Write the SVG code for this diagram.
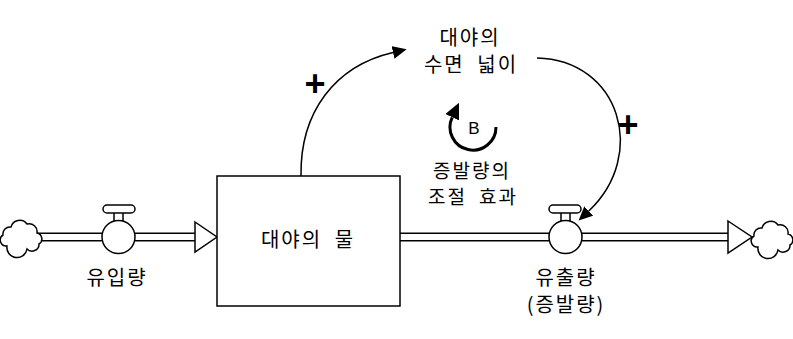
<svg xmlns="http://www.w3.org/2000/svg" width="793" height="339" viewBox="0 0 793 339">
<style>
.t{font-family:"Noto Sans CJK KR","Noto Sans",sans-serif;font-size:20px;fill:#000;text-anchor:middle;letter-spacing:2px;word-spacing:6px}
.s{font-size:19px;letter-spacing:2px}
.pl{font-family:"Liberation Sans",Arial,sans-serif;font-weight:bold;font-size:36px;text-anchor:middle;fill:#000}
.pipeO{stroke:#000;stroke-width:9;fill:none}
.pipeI{stroke:#fff;stroke-width:6;fill:none}
.ln{fill:#fff;stroke:#000;stroke-width:1.5}
.inf{fill:none;stroke:#000;stroke-width:1.5}
</style>
<defs>
<marker id="ah" markerUnits="userSpaceOnUse" markerWidth="16" markerHeight="14" refX="0" refY="6.5" orient="auto"><path d="M0,0 L14,6.5 L0,13 z" fill="#000"/></marker>
<marker id="ahL" markerUnits="userSpaceOnUse" markerWidth="18" markerHeight="16" refX="0" refY="7.5" orient="auto"><path d="M0,0 L16,7.5 L0,15 z" fill="#000"/></marker>
<path id="cloud" d="M-14,10 a6,6 0 0 1 -4,-11 a7,7 0 0 1 8,-8 a9,9 0 0 1 16,-3 a8,8 0 0 1 10,9 a6,6 0 0 1 2,11 a7,7 0 0 1 -12,5 a9,9 0 0 1 -20,-3 z" fill="#fff" stroke="#000" stroke-width="1.5"/>
</defs>
<g id="connectors">
<path class="pipeO" d="M36,237 H197"/>
<path class="pipeI" d="M36,237 H197"/>
<path class="pipeO" d="M400,237 H730"/>
<path class="pipeI" d="M399,237 H730"/>
<polygon class="ln" points="195,222 217,237 195,252"/>
<polygon class="ln" points="728,221 752,237 728,253"/>
<path class="inf" d="M301,176 C300,112 335,66 393,52.5" marker-end="url(#ah)"/>
<path class="inf" d="M537,58 C620,60 648,155 588.8,211" marker-end="url(#ah)"/>
</g>
<g id="stock">
<rect x="217" y="176" width="183" height="130" fill="#fff" stroke="#000" stroke-width="1.5"/>
<text class="t" x="308" y="247">대야의 물</text>
</g>
<g id="source-cloud"><use href="#cloud" transform="translate(21,236)"/></g>
<g id="sink-cloud"><use href="#cloud" transform="translate(772,237)"/></g>
<g id="inflow">
<rect class="ln" x="114" y="212" width="9" height="9"/>
<rect class="ln" x="103" y="205" width="32" height="8" rx="4"/>
<circle class="ln" cx="118.5" cy="237" r="16.5"/>
<text class="t" x="117" y="285">유입량</text>
</g>
<g id="outflow">
<rect class="ln" x="561" y="212" width="9" height="9"/>
<rect class="ln" x="549" y="205" width="32" height="8" rx="4"/>
<circle class="ln" cx="565.5" cy="237" r="16.5"/>
<text class="t" x="566" y="285">유출량</text>
<text class="t" x="566" y="312">(증발량)</text>
</g>
<g id="surface">
<text class="t" x="470" y="45">대야의</text>
<text class="t" x="471" y="72">수면 넓이</text>
</g>
<g id="loop">
<path d="M496,127 A23,23 0 1 1 452.2,117.3" fill="none" stroke="#000" stroke-width="3" marker-end="url(#ahL)"/>
<text x="474" y="134" font-family="Liberation Sans, Arial, sans-serif" font-size="17" text-anchor="middle">B</text>
<text class="t s" x="472" y="178">증발량의</text>
<text class="t s" x="473" y="204">조절 효과</text>
</g>
<g id="polarities">
<text class="pl" x="315" y="96">+</text>
<text class="pl" x="628" y="137">+</text>
</g>
</svg>
